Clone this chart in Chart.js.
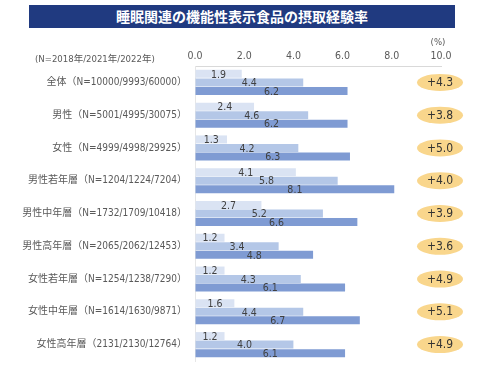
<!DOCTYPE html>
<html>
<head>
<meta charset="utf-8">
<script src="https://cdn.jsdelivr.net/npm/chart.js@4"></script>
<style>
  html, body { margin: 0; padding: 0; background: #fff; }
  #wrap { position: relative; width: 500px; height: 375px; }
  #title {
    position: absolute; left: 29px; top: 5px; width: 426px; height: 23px;
    background: #203a80; color: #fff; text-align: center;
    font: bold 14px "Noto Sans CJK JP", sans-serif; line-height: 23px;
  }
  #nhead {
    position: absolute; left: 35px; top: 51px; color: #595959;
    font: 9.5px "DejaVu Sans Condensed", "Noto Sans CJK JP", sans-serif;
  }
  canvas { position: absolute; left: 0; top: 0; }
</style>
</head>
<body>
<div id="wrap">
  <canvas id="chart" width="500" height="375"></canvas>
  <div id="title">睡眠関連の機能性表示食品の摂取経験率</div>
  <div id="nhead">(N=2018年/2021年/2022年)</div>
</div>
<script>
// Groups and sample sizes
const categories = [
  "全体（N=10000/9993/60000）",
  "男性（N=5001/4995/30075）",
  "女性（N=4999/4998/29925）",
  "男性若年層（N=1204/1224/7204）",
  "男性中年層（N=1732/1709/10418）",
  "男性高年層（N=2065/2062/12453）",
  "女性若年層（N=1254/1238/7290）",
  "女性中年層（N=1614/1630/9871）",
  "女性高年層（2131/2130/12764）"
];
const years = ["2018年", "2021年", "2022年"];
const values2018 = [1.9, 2.4, 1.3, 4.1, 2.7, 1.2, 1.2, 1.6, 1.2];
const values2021 = [4.4, 4.6, 4.2, 5.8, 5.2, 3.4, 4.3, 4.4, 4.0];
const values2022 = [6.2, 6.2, 6.3, 8.1, 6.6, 4.8, 6.1, 6.7, 6.1];
const diffLabels = ["+4.3", "+3.8", "+5.0", "+4.0", "+3.9", "+3.6", "+4.9", "+5.1", "+4.9"];
const xTicks = [0, 2, 4, 6, 8, 10];

const colors = ["#dae3f3", "#b4c7e7", "#7f9bd3"];
const textFont = '"DejaVu Sans Condensed", "Noto Sans CJK JP", sans-serif';

// value labels centred on each bar
const barLabels = {
  id: "barLabels",
  afterDatasetsDraw(chart) {
    const ctx = chart.ctx;
    ctx.save();
    ctx.font = "10.5px " + textFont;
    ctx.fillStyle = "#404040";
    ctx.textAlign = "center";
    ctx.textBaseline = "middle";
    chart.data.datasets.forEach((ds, di) => {
      chart.getDatasetMeta(di).data.forEach((bar, i) => {
        ctx.fillText(ds.data[i].toFixed(1), (bar.base + bar.x) / 2, bar.y + 1);
      });
    });
    ctx.restore();
  }
};

// orange ovals with the 2018→2022 change
const diffOvals = {
  id: "diffOvals",
  afterDraw(chart) {
    const ctx = chart.ctx;
    const xs = chart.scales.x, ys = chart.scales.y;
    const cx = xs.getPixelForValue(10) - 1;
    ctx.save();
    ctx.font = "12px " + textFont;
    ctx.textAlign = "center";
    ctx.textBaseline = "middle";
    diffLabels.forEach((t, i) => {
      const cy = ys.getPixelForValue(i);
      ctx.fillStyle = "#f9d68c";
      ctx.beginPath();
      ctx.ellipse(cx, cy, 23, 8.5, 0, 0, Math.PI * 2);
      ctx.fill();
      ctx.fillStyle = "#333";
      ctx.fillText(t, cx, cy + 0.5);
    });
    // unit label
    ctx.font = "9.5px " + textFont;
    ctx.fillStyle = "#595959";
    ctx.fillText("(%)", xs.getPixelForValue(10) - 3, 43);
    ctx.restore();
  }
};

new Chart(document.getElementById("chart"), {
  type: "bar",
  data: {
    labels: categories,
    datasets: [
      { label: years[0], data: values2018, backgroundColor: colors[0] },
      { label: years[1], data: values2021, backgroundColor: colors[1] },
      { label: years[2], data: values2022, backgroundColor: colors[2] }
    ]
  },
  options: {
    indexAxis: "y",
    responsive: false,
    animation: false,
    categoryPercentage: 0.78,
    barPercentage: 0.94,
    layout: { padding: { top: 30, right: 59, bottom: 2, left: 0 } },
    plugins: {
      legend: { display: false },
      tooltip: { enabled: false }
    },
    scales: {
      x: {
        position: "top",
        min: 0,
        max: 10,
        afterBuildTicks: (s) => { s.ticks = xTicks.map((v) => ({ value: v })); },
        afterFit: (s) => { s.height = 36; },
        ticks: {
          callback: (v) => Number(v).toFixed(1),
          color: "#595959",
          font: { size: 10.5, family: textFont },
          padding: 3,
          maxRotation: 0
        },
        grid: { drawOnChartArea: false, drawTicks: false },
        border: { color: "#d9d9d9" }
      },
      y: {
        afterFit: (s) => { s.width = 195; },
        ticks: {
          color: "#595959",
          font: { size: 10, family: textFont },
          padding: 8
        },
        grid: { display: false, drawTicks: false },
        border: { color: "#e6e6e6" }
      }
    }
  },
  plugins: [barLabels, diffOvals]
});
</script>
</body>
</html>
